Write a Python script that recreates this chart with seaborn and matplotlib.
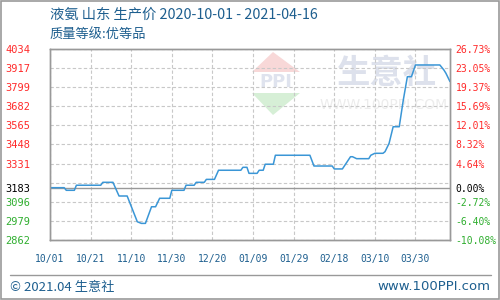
import matplotlib
matplotlib.use("Agg")
import matplotlib.pyplot as plt
import seaborn as sns
import pandas as pd
from matplotlib.patches import Polygon, Rectangle
from matplotlib.lines import Line2D

# ---- data ----
day_offsets = [0, 7, 8, 12, 13, 25, 26, 31, 34, 38, 43, 45, 47, 50, 52, 54, 59, 60, 66, 67,
               71, 72, 76, 77, 81, 83, 94, 95, 97, 98, 102, 103, 105, 106, 110, 111, 128, 130,
               139, 140, 144, 148, 149, 151, 157, 158, 160, 164, 165, 167, 169, 172, 174, 176,
               178, 180, 192, 194, 195, 197]
prices = [3183, 3183, 3167, 3167, 3198, 3198, 3216, 3216, 3132, 3132, 2974, 2964, 2964, 3066,
          3066, 3118, 3118, 3167, 3167, 3198, 3198, 3216, 3216, 3234, 3234, 3290, 3290, 3308,
          3308, 3271, 3271, 3290, 3290, 3327, 3327, 3382, 3382, 3316, 3316, 3298, 3298, 3373,
          3373, 3361, 3361, 3382, 3394, 3394, 3404, 3455, 3557, 3557, 3721, 3864, 3864, 3936,
          3936, 3905, 3885, 3834]
start_date = "2020-10-01"
end_date = "2021-04-16"
base_price = 3183
y_tick_values = [2862, 2979, 3096, 3183, 3331, 3448, 3565, 3682, 3799, 3917, 4034]
y_tick_labels = ["2862", "2979", "3096", "3183", "3331", "3448", "3565", "3682", "3799", "3917", "4034"]
pct_labels = ["-10.08%", "-6.40%", "-2.72%", "0.00%", "4.64%", "8.32%", "12.01%", "15.69%",
              "19.37%", "23.05%", "26.73%"]
grid_values = [2862, 2979.2, 3096.4, 3213.6, 3330.8, 3448, 3565.2, 3682.4, 3799.6, 3916.8, 4034]
x_tick_labels = ["10/01", "10/21", "11/10", "11/30", "12/20", "01/09", "01/29", "02/18", "03/10", "03/30"]
title = "液氨 山东 生产价 2020-10-01 - 2021-04-16"
subtitle = "质量等级:优等品"
footer_left = "© 2021.04 生意社"
footer_right = "www.100PPI.com"

dates = pd.to_datetime(start_date) + pd.to_timedelta(day_offsets, unit="D")
df = pd.DataFrame({"date": dates, "price": prices})

sns.set_style("white")
plt.rcParams["font.family"] = ["Noto Sans CJK SC", "DejaVu Sans"]

fig = plt.figure(figsize=(5, 3), dpi=100)
W, H = 500, 300
ax = fig.add_axes([50 / W, 1 - 240 / H, 400 / W, 191 / H])

TITLE_C = "#1e5f8f"
RED = "#ff2a2a"
GREEN = "#2fae2f"
GRID_C = "#c8c8c8"
SPINE_C = "#999999"

# watermark (figure coords in pixels)
def fx(x):
    return x / W

def fy(y):
    return 1 - y / H

fig.patches.append(Rectangle((fx(320), fy(132)), 130 / W, 80 / H, transform=fig.transFigure,
                             facecolor="white", edgecolor="none", zorder=0.5))
fig.patches.append(Polygon([(fx(273), fy(52)), (fx(300), fy(72)), (fx(252), fy(72))],
                           closed=True, transform=fig.transFigure, facecolor="#f8d8d8",
                           edgecolor="none", zorder=0.6))
fig.patches.append(Polygon([(fx(252), fy(93)), (fx(300), fy(93)), (fx(273), fy(115))],
                           closed=True, transform=fig.transFigure, facecolor="#d6efd6",
                           edgecolor="none", zorder=0.6))
fig.text(fx(276), fy(82), "PPI", ha="center", va="center", fontsize=13, fontweight="bold",
         color="#dfe3ee", family="DejaVu Sans", zorder=0.7)
fig.text(fx(387), fy(73), "生意社", ha="center", va="center", fontsize=24, fontweight="bold",
         color="#dde1ec", zorder=0.7)
fig.text(fx(384), fy(105), "WWW.100PPI.COM", ha="center", va="center", fontsize=10,
         color="#ececec", family="DejaVu Sans", zorder=0.7)

ax.set_facecolor("none")
ax.set_zorder(2)

# grid
for gv in grid_values:
    ax.axhline(gv, color=GRID_C, linestyle=(0, (3, 2)), linewidth=0.8, zorder=1)
x_ticks = pd.date_range(start_date, periods=len(x_tick_labels), freq="20D")
for xt in x_ticks:
    ax.axvline(xt, color=GRID_C, linestyle=(0, (3, 2)), linewidth=0.8, zorder=1)
ax.axhline(base_price, color="#999999", linewidth=1.0, zorder=1.5)

sns.lineplot(data=df, x="date", y="price", ax=ax, color="#3a96d6", linewidth=1.1, zorder=3)

ax.set_xlim(pd.to_datetime(start_date), pd.to_datetime(end_date))
ax.set_ylim(y_tick_values[0], y_tick_values[-1])
ax.set_xlabel("")
ax.set_ylabel("")

ax.set_xticks(x_ticks)
ax.set_xticklabels(x_tick_labels, family="DejaVu Sans Mono", fontsize=7, color=TITLE_C)
ax.tick_params(axis="x", length=0, pad=10)

ax.set_yticks(y_tick_values)
ax.set_yticklabels(y_tick_labels, family="DejaVu Sans Mono", fontsize=7.5, ha="left")
ax.tick_params(axis="y", length=0, pad=32)
for lbl, v in zip(ax.get_yticklabels(), y_tick_values):
    lbl.set_color(RED if v > base_price else ("black" if v == base_price else GREEN))

ax2 = ax.twinx()
ax2.set_ylim(ax.get_ylim())
ax2.set_yticks(y_tick_values)
ax2.set_yticklabels(pct_labels, family="DejaVu Sans Mono", fontsize=7)
ax2.tick_params(axis="y", length=0, pad=4)
for lbl, v in zip(ax2.get_yticklabels(), y_tick_values):
    lbl.set_color(RED if v > base_price else ("black" if v == base_price else GREEN))
ax2.grid(False)

for a in (ax, ax2):
    for s in a.spines.values():
        s.set_color(SPINE_C)
        s.set_linewidth(1.0)

# titles
fig.text(fx(50), fy(15), title, ha="left", va="center", fontsize=10.3, color=TITLE_C)
fig.text(fx(50), fy(34), subtitle, ha="left", va="center", fontsize=9.5, color=TITLE_C)

# footer
fig.add_artist(Line2D([fx(10), fx(491)], [fy(275), fy(275)], transform=fig.transFigure,
                      color="#999999", linewidth=1.0))
fig.text(fx(10), fy(287), footer_left, ha="left", va="center", fontsize=9.5, color=TITLE_C)
fig.text(fx(490), fy(287), footer_right, ha="right", va="center", fontsize=9.5, color=TITLE_C,
         family="DejaVu Sans")

# outer border
fig.patches.append(Rectangle((0.001, 0.002), 0.997, 0.996, transform=fig.transFigure,
                             facecolor="none", edgecolor="#999999", linewidth=1.2, zorder=5))

fig.savefig("out.png", dpi=100)
